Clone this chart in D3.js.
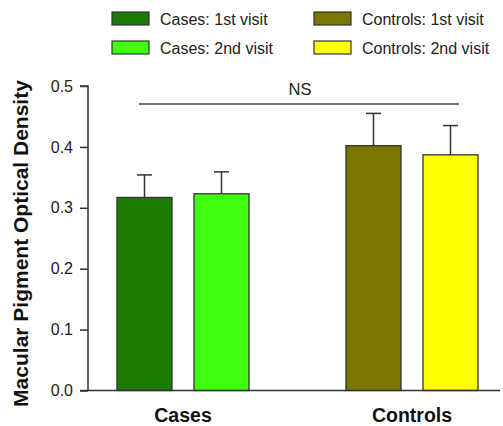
<!DOCTYPE html>
<html>
<head>
<meta charset="utf-8">
<script src="https://cdn.jsdelivr.net/npm/d3@7"></script>
<style>
  html, body { margin: 0; padding: 0; background: #fff; }
  svg { display: block; font-family: "Liberation Sans", Arial, sans-serif; }
</style>
</head>
<body>
<svg id="chart" width="503" height="426"></svg>
<script>
// Groups, visits and measured values (mean and upper SD bar end)
const groups = ["Cases", "Controls"];
const visits = ["1st visit", "2nd visit"];
const casesMean = [0.317, 0.323];
const casesUpper = [0.354, 0.359];
const controlsMean = [0.402, 0.387];
const controlsUpper = [0.455, 0.435];
const legendLabels = ["Cases: 1st visit", "Cases: 2nd visit", "Controls: 1st visit", "Controls: 2nd visit"];
const yTicks = [0.0, 0.1, 0.2, 0.3, 0.4, 0.5];
const yTitle = "Macular Pigment Optical Density";
const sigLabel = "NS";

const colors = {
  "Cases": ["#1c7b02", "#3eff0e"],
  "Controls": ["#7a7700", "#ffff00"]
};

const rows = [];
groups.forEach((g, gi) => {
  const means = gi === 0 ? casesMean : controlsMean;
  const uppers = gi === 0 ? casesUpper : controlsUpper;
  visits.forEach((v, vi) => rows.push({ group: g, visit: v, mean: means[vi], upper: uppers[vi], color: colors[g][vi] }));
});

const svg = d3.select("#chart");
const axisLeft = 88, axisBottom = 390.5, axisTop = 86, axisRight = 500;

const y = d3.scaleLinear().domain([0, 0.5]).range([axisBottom, axisTop]);
const x0 = d3.scalePoint().domain(groups).range([183, 412]);
const x1 = d3.scaleBand().domain(visits).range([-66, 66]).paddingInner(0.2857).paddingOuter(0);

// Bars
const barG = svg.append("g");
barG.selectAll("rect").data(rows).join("rect")
  .attr("x", d => x0(d.group) + x1(d.visit))
  .attr("y", d => y(d.mean))
  .attr("width", x1.bandwidth())
  .attr("height", d => y(0) - y(d.mean))
  .attr("fill", d => d.color)
  .attr("stroke", "#333")
  .attr("stroke-width", 1.3);

// Upper error bars
const errG = svg.append("g").attr("stroke", "#333").attr("stroke-width", 1.5);
rows.forEach(d => {
  const cx = x0(d.group) + x1(d.visit) + x1.bandwidth() / 2;
  errG.append("line").attr("x1", cx).attr("x2", cx).attr("y1", y(d.mean)).attr("y2", y(d.upper));
  errG.append("line").attr("x1", cx - 7.5).attr("x2", cx + 7.5).attr("y1", y(d.upper)).attr("y2", y(d.upper));
});

// Y axis
const yAxis = d3.axisLeft(y).tickValues(yTicks).tickFormat(d3.format(".1f")).tickSize(8).tickPadding(7);
const yG = svg.append("g").attr("transform", `translate(${axisLeft},0)`).call(yAxis)
  .attr("font-size", null).attr("font-family", null);
yG.select(".domain").attr("stroke", "#333").attr("stroke-width", 1.5).attr("d", `M-8,${axisTop}H0V${axisBottom}`);
yG.selectAll(".tick line").attr("stroke", "#333").attr("stroke-width", 1.5);
yG.selectAll(".tick text").attr("fill", "#222").attr("font-size", "16px");

// X axis baseline
svg.append("line")
  .attr("x1", axisLeft - 8).attr("x2", axisRight)
  .attr("y1", axisBottom).attr("y2", axisBottom)
  .attr("stroke", "#333").attr("stroke-width", 1.5);

// Group labels
svg.append("g").selectAll("text").data(groups).join("text")
  .attr("x", d => x0(d))
  .attr("y", 422)
  .attr("text-anchor", "middle")
  .attr("font-weight", "bold")
  .attr("font-size", "19.5px")
  .attr("fill", "#111")
  .text(d => d);

// Y axis title
svg.append("text")
  .attr("transform", "translate(28,243.5) rotate(-90)")
  .attr("text-anchor", "middle")
  .attr("font-weight", "bold")
  .attr("font-size", "21px")
  .attr("fill", "#111")
  .text(yTitle);

// Significance bracket
svg.append("line")
  .attr("x1", 139).attr("x2", 459).attr("y1", 104).attr("y2", 104)
  .attr("stroke", "#444").attr("stroke-width", 1.5);
svg.append("text")
  .attr("x", 300).attr("y", 95)
  .attr("text-anchor", "middle")
  .attr("font-size", "16.5px")
  .attr("fill", "#222")
  .text(sigLabel);

// Legend
const legendColors = [colors.Cases[0], colors.Cases[1], colors.Controls[0], colors.Controls[1]];
const legendPos = [[112, 12], [112, 41], [314, 12], [314, 41]];
const lg = svg.append("g");
legendLabels.forEach((lab, i) => {
  const [lx, ly] = legendPos[i];
  lg.append("rect").attr("x", lx).attr("y", ly).attr("width", 37).attr("height", 13)
    .attr("fill", legendColors[i]).attr("stroke", "#333").attr("stroke-width", 1.2);
  lg.append("text").attr("x", lx + 48).attr("y", ly + 12.5)
    .attr("font-size", "16px").attr("fill", "#222").text(lab);
});
</script>
</body>
</html>
